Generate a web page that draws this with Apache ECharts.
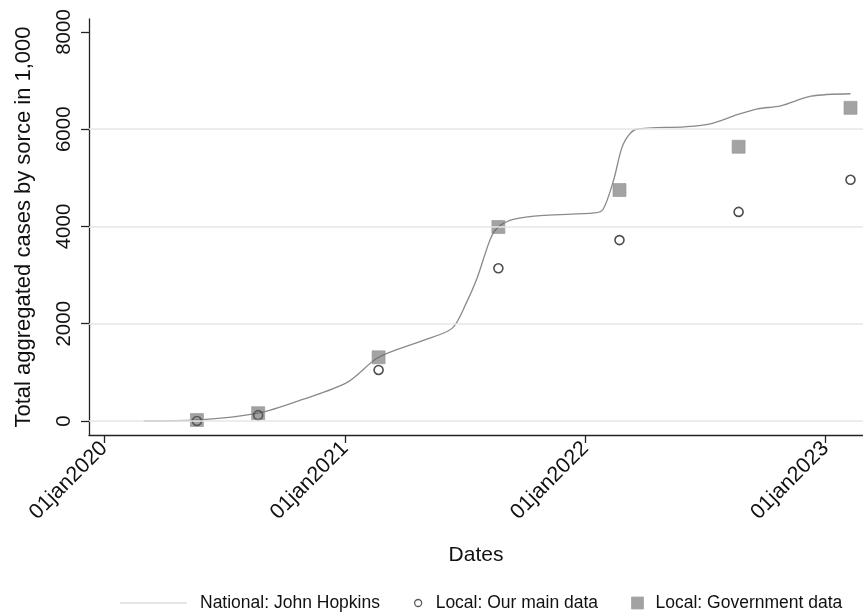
<!DOCTYPE html>
<html>
<head>
<meta charset="utf-8">
<title>Total aggregated cases by source</title>
<script src="https://cdn.jsdelivr.net/npm/echarts@6/dist/echarts.min.js"></script>
<style>
  html, body { margin: 0; padding: 0; background: #ffffff; }
  #chart { width: 863px; height: 616px; }
</style>
</head>
<body>
<div id="chart"></div>
<script>
// National series (John Hopkins), cases in thousands
const nationalDates = [
  '2020-03-01', '2020-05-21', '2020-08-22', '2020-10-30', '2021-01-05',
  '2021-02-21', '2021-04-30', '2021-06-13', '2021-07-05', '2021-07-21',
  '2021-08-10', '2021-08-22', '2021-09-15', '2021-11-01', '2022-01-15',
  '2022-01-28', '2022-02-13', '2022-02-28', '2022-03-20', '2022-06-01',
  '2022-07-10', '2022-08-20', '2022-09-20', '2022-10-25', '2022-12-10',
  '2023-02-08'
];
const nationalValues = [
  0, 20, 160, 450, 800,
  1310, 1660, 1910, 2450, 2950,
  3750, 3990, 4150, 4230, 4280,
  4350, 4950, 5700, 6000, 6050,
  6110, 6300, 6420, 6480, 6680,
  6730
];

// Local survey rounds
const localDates = [
  '2020-05-21', '2020-08-22', '2021-02-21', '2021-08-22',
  '2022-02-22', '2022-08-22', '2023-02-08'
];
const mainValues = [0, 120, 1050, 3140, 3720, 4300, 4960];
const governmentValues = [20, 160, 1310, 3990, 4750, 5640, 6440];

// Axis ticks
const yTicks = [0, 2000, 4000, 6000, 8000];
const yGridValues = [0, 2000, 4000, 6000];
const xTickDates = ['2020-01-01', '2021-01-01', '2022-01-01', '2023-01-01'];

const seriesNames = ['National: John Hopkins', 'Local: Our main data', 'Local: Government data'];

const FONT = '"Liberation Sans", Arial, Helvetica, sans-serif';
const ts = d => new Date(d + 'T00:00:00Z').getTime();
const months = ['jan','feb','mar','apr','may','jun','jul','aug','sep','oct','nov','dec'];
const fmtDate = v => {
  const d = new Date(v);
  const dd = String(d.getUTCDate()).padStart(2, '0');
  return dd + months[d.getUTCMonth()] + d.getUTCFullYear();
};

const chart = echarts.init(document.getElementById('chart'), null, { renderer: 'canvas' });

const legendText = { fontFamily: FONT, fontSize: 17.5, color: '#111' };

const option = {
  backgroundColor: '#ffffff',
  animation: false,
  textStyle: { fontFamily: FONT },
  grid: { left: 89, right: 0, top: 19, bottom: 181, containLabel: false },
  legend: [
    {
      left: 120, top: 594, padding: 0,
      data: [seriesNames[0]],
      icon: 'rect', itemWidth: 67, itemHeight: 1,
      itemStyle: { color: '#cdcdcd', borderWidth: 0 },
      lineStyle: { color: '#cdcdcd', width: 1 },
      textStyle: Object.assign({ padding: [0, 0, 0, 8] }, legendText)
    },
    {
      left: 414, top: 594, padding: 0,
      data: [seriesNames[1]],
      icon: 'circle', itemWidth: 7, itemHeight: 7,
      itemStyle: { color: '#ffffff', borderColor: '#333', borderWidth: 1.3 },
      textStyle: Object.assign({ padding: [0, 0, 0, 9] }, legendText)
    },
    {
      left: 631, top: 594, padding: 0,
      data: [seriesNames[2]],
      icon: 'rect', itemWidth: 12, itemHeight: 12,
      itemStyle: { color: '#8b8b8b', borderColor: '#a5a5a5', borderWidth: 1 },
      textStyle: Object.assign({ padding: [0, 0, 0, 7] }, legendText)
    }
  ],
  xAxis: {
    // dates as epoch milliseconds on a linear scale
    type: 'value',
    min: ts('2019-12-09'),
    max: ts('2023-02-27'),
    name: 'Dates',
    nameLocation: 'middle',
    nameGap: 110,
    nameTextStyle: { fontFamily: FONT, fontSize: 21, color: '#111' },
    axisLine: { show: true, onZero: false, lineStyle: { color: '#222', width: 1.3 } },
    axisTick: { show: true, length: 8, lineStyle: { color: '#222', width: 1.3 },
      customValues: xTickDates.map(ts) },
    axisLabel: {
      rotate: 45, margin: 10, fontFamily: FONT, fontSize: 21.5, color: '#111',
      customValues: xTickDates.map(ts),
      formatter: v => fmtDate(v)
    },
    splitLine: { show: false },
    minorTick: { show: false }
  },
  yAxis: {
    type: 'value',
    min: -288,
    max: 8267,
    name: 'Total aggregated cases by sorce in 1,000',
    nameLocation: 'middle',
    nameRotate: 90,
    nameGap: 54,
    nameTextStyle: { fontFamily: FONT, fontSize: 22, color: '#111' },
    axisLine: { show: true, onZero: false, lineStyle: { color: '#222', width: 1.3 } },
    axisTick: { show: true, length: 8, lineStyle: { color: '#222', width: 1.3 },
      customValues: yTicks },
    axisLabel: {
      rotate: 90, margin: 14, fontFamily: FONT, fontSize: 20.5, color: '#111',
      customValues: yTicks,
      formatter: v => String(v)
    },
    splitLine: { show: false }
  },
  series: [
    {
      // horizontal reference lines
      type: 'line',
      data: [],
      silent: true,
      z: 0,
      markLine: {
        silent: true,
        symbol: ['none', 'none'],
        label: { show: false },
        lineStyle: { color: '#e6e6e6', width: 1.5, type: 'solid' },
        data: yGridValues.map(v => ({ yAxis: v }))
      }
    },
    {
      name: seriesNames[0],
      type: 'line',
      z: 2,
      data: nationalDates.map((d, i) => [ts(d), nationalValues[i]]),
      smooth: 0.3,
      showSymbol: false,
      symbol: 'none',
      lineStyle: { color: '#8a8a8a', width: 1.3 },
      itemStyle: { color: '#cdcdcd' }
    },
    {
      name: seriesNames[1],
      type: 'scatter',
      z: 3,
      data: localDates.map((d, i) => [ts(d), mainValues[i]]),
      symbol: 'circle',
      symbolSize: 9,
      itemStyle: { color: 'rgba(255,255,255,0)', borderColor: '#222', borderWidth: 1.6 }
    },
    {
      name: seriesNames[2],
      type: 'scatter',
      z: 4,
      data: localDates.map((d, i) => [ts(d), governmentValues[i]]),
      symbol: 'rect',
      symbolSize: 13,
      itemStyle: { color: 'rgba(95,95,95,0.72)', borderColor: 'rgba(150,150,150,0.8)', borderWidth: 1 }
    }
  ]
};

chart.setOption(option);
</script>
</body>
</html>
